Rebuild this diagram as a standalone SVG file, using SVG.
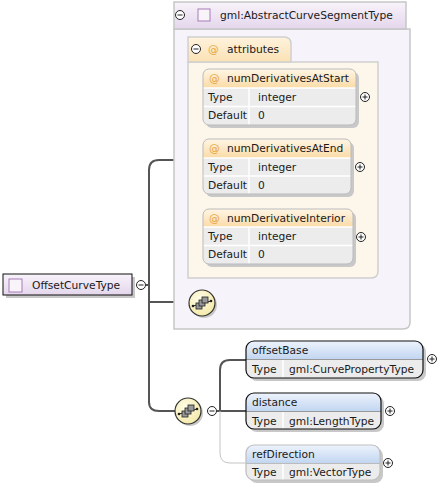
<svg xmlns="http://www.w3.org/2000/svg" width="439" height="488" viewBox="0 0 439 488">
<defs>
<linearGradient id="gPurple" x1="0" y1="0" x2="0" y2="1"><stop offset="0" stop-color="#f8f3fa"/><stop offset="1" stop-color="#e4d6ec"/></linearGradient>
<linearGradient id="gOrange" x1="0" y1="0" x2="0" y2="1"><stop offset="0" stop-color="#fff6e6"/><stop offset="1" stop-color="#fbdba6"/></linearGradient>
<linearGradient id="gTab" x1="0" y1="0" x2="0" y2="1"><stop offset="0" stop-color="#fff3dd"/><stop offset="1" stop-color="#fbe1b4"/></linearGradient>
<linearGradient id="gBlue" x1="0" y1="0" x2="0" y2="1"><stop offset="0" stop-color="#eef3fc"/><stop offset="1" stop-color="#c2d6f1"/></linearGradient>
<radialGradient id="gSeq" cx="0.4" cy="0.35" r="0.7"><stop offset="0" stop-color="#fffde8"/><stop offset="1" stop-color="#f3e9a6"/></radialGradient>
<g id="seqGlyph">
<line x1="-9" y1="2" x2="9" y2="-3" stroke="#222" stroke-width="1"/>
<circle cx="-9" cy="2" r="1.3" fill="#222"/>
<circle cx="9" cy="-3" r="1.3" fill="#222"/>
<rect x="-6" y="-1" width="6" height="6" fill="#999" stroke="#222" stroke-width="0.8"/>
<rect x="-3" y="-4" width="6" height="6" fill="#999" stroke="#222" stroke-width="0.8"/>
<rect x="0" y="-7" width="6" height="6" fill="#999" stroke="#222" stroke-width="0.8"/>
</g>
<g id="plus"><circle r="4.5" fill="#fff" stroke="#222" stroke-width="1"/><path d="M-2.5 0H2.5M0 -2.5V2.5" stroke="#222" stroke-width="1"/></g>
<g id="minus"><circle r="4.5" fill="#fff" stroke="#222" stroke-width="1"/><path d="M-2.5 0H2.5" stroke="#222" stroke-width="1"/></g>
</defs>
<style>
text{font-family:"DejaVu Sans","Liberation Sans",sans-serif;font-size:10.7px;fill:#1a1a1a}
.at{fill:#e8a53a}
.conn{fill:none;stroke:#555;stroke-width:2}
.connOpt{fill:none;stroke:#c4c4c4;stroke-width:1}
.shadow{fill:#c8c8c8}
.row{fill:#ececec}
.sep{stroke:#fff;stroke-width:1.5}
.attrBox{fill:none;stroke:#bbb;stroke-width:1}
</style>

<!-- connectors -->
<g id="connectors">
<path class="conn" d="M146 285H149"/>
<path class="conn" d="M188 160H159Q149 160 149 170V402Q149 411 159 411H175"/>
<path class="conn" d="M149 302H189"/>
<path class="conn" d="M217 411H246"/>
<path class="conn" d="M246 360H230Q220 360 220 370V411"/>
<path class="connOpt" d="M220 411V453Q220 463 230 463H246"/>
</g>

<!-- outer type container -->
<g id="abstractCurveSegmentType">
<path d="M174 29H410V322Q410 329 403 329H174Z" fill="#f7f3fa" stroke="#c6c6c6" stroke-width="1.5"/>
<rect x="174" y="2" width="232" height="27" fill="url(#gPurple)" stroke="#c6c6c6" stroke-width="1.5"/>
<use href="#minus" x="180" y="15"/>
<rect x="198" y="9" width="12" height="12" fill="#f8f4fa" stroke="#a77cb8" stroke-width="1"/>
<text x="220" y="19">gml:AbstractCurveSegmentType</text>
</g>

<!-- attributes group -->
<g id="attributes">
<path d="M188 62H378V271Q378 278 371 278H188Z" fill="#fdf6eb" stroke="#cfcfcf" stroke-width="1.5"/>
<path d="M188 62V37H284Q291 37 291 44V62Z" fill="url(#gTab)" stroke="#cfcfcf" stroke-width="1.5"/>
<use href="#minus" x="196" y="49"/>
<text class="at" x="208" y="53">@</text>
<text x="227" y="53">attributes</text>
</g>

<g id="numDerivativesAtStart">
<rect class="shadow" x="206" y="72" width="153" height="56" rx="6"/>
<rect x="203" y="69" width="153" height="56" rx="6" fill="#ececec"/>
<path d="M203 88V75Q203 69 209 69H350Q356 69 356 75V88Z" fill="url(#gOrange)"/>
<line class="sep" x1="203" y1="88" x2="356" y2="88"/>
<line class="sep" x1="203" y1="106.5" x2="356" y2="106.5"/>
<line class="sep" x1="249" y1="88" x2="249" y2="125"/>
<rect class="attrBox" x="203" y="69" width="153" height="56" rx="6"/>
<text class="at" x="209" y="82">@</text>
<text x="227" y="82">numDerivativesAtStart</text>
<text x="208" y="101">Type</text><text x="258" y="101">integer</text>
<text x="208" y="119">Default</text><text x="258" y="119">0</text>
<use href="#plus" x="365" y="97"/>
</g>

<g id="numDerivativesAtEnd">
<rect class="shadow" x="206" y="142" width="148" height="55" rx="6"/>
<rect x="203" y="139" width="148" height="55" rx="6" fill="#ececec"/>
<path d="M203 158V145Q203 139 209 139H345Q351 139 351 145V158Z" fill="url(#gOrange)"/>
<line class="sep" x1="203" y1="158" x2="351" y2="158"/>
<line class="sep" x1="203" y1="176" x2="351" y2="176"/>
<line class="sep" x1="249" y1="158" x2="249" y2="194"/>
<rect class="attrBox" x="203" y="139" width="148" height="55" rx="6"/>
<text class="at" x="209" y="152">@</text>
<text x="227" y="152">numDerivativesAtEnd</text>
<text x="208" y="171">Type</text><text x="258" y="171">integer</text>
<text x="208" y="189">Default</text><text x="258" y="189">0</text>
<use href="#plus" x="360" y="167"/>
</g>

<g id="numDerivativeInterior">
<rect class="shadow" x="206" y="212" width="150" height="55" rx="6"/>
<rect x="203" y="209" width="150" height="55" rx="6" fill="#ececec"/>
<path d="M203 227V215Q203 209 209 209H347Q353 209 353 215V227Z" fill="url(#gOrange)"/>
<line class="sep" x1="203" y1="227" x2="353" y2="227"/>
<line class="sep" x1="203" y1="245.5" x2="353" y2="245.5"/>
<line class="sep" x1="249" y1="227" x2="249" y2="264"/>
<rect class="attrBox" x="203" y="209" width="150" height="55" rx="6"/>
<text class="at" x="209" y="222">@</text>
<text x="227" y="222">numDerivativeInterior</text>
<text x="208" y="240">Type</text><text x="258" y="240">integer</text>
<text x="208" y="258">Default</text><text x="258" y="258">0</text>
<use href="#plus" x="361" y="237"/>
</g>

<!-- sequence inside type -->
<g id="sequence1">
<circle cx="204" cy="305" r="13" class="shadow"/>
<circle cx="202" cy="303" r="13" fill="url(#gSeq)" stroke="#333" stroke-width="1.2"/>
<use href="#seqGlyph" x="202" y="304"/>
</g>

<!-- root element -->
<g id="offsetCurveType">
<rect class="shadow" x="6" y="277" width="129" height="21"/>
<rect x="3" y="274" width="129" height="21" fill="url(#gPurple)" stroke="#111" stroke-width="1"/>
<rect x="9" y="279" width="13" height="13" fill="#f8f4fa" stroke="#a77cb8" stroke-width="1"/>
<text x="32" y="289">OffsetCurveType</text>
<use href="#minus" x="141" y="285"/>
</g>

<!-- sequence bottom -->
<g id="sequence2">
<circle cx="190" cy="413" r="13" class="shadow"/>
<circle cx="188" cy="411" r="13" fill="url(#gSeq)" stroke="#333" stroke-width="1.2"/>
<use href="#seqGlyph" x="188" y="412"/>
<use href="#minus" x="212" y="411"/>
</g>

<g id="offsetBase">
<rect class="shadow" x="249" y="344" width="177" height="37" rx="8"/>
<rect x="246" y="341" width="177" height="37" rx="8" fill="#ececec"/>
<path d="M246 359V349Q246 341 254 341H415Q423 341 423 349V359Z" fill="url(#gBlue)"/>
<line x1="246" y1="359.5" x2="423" y2="359.5" stroke="#999" stroke-width="1"/>
<line class="sep" x1="283" y1="360" x2="283" y2="378"/>
<rect x="246" y="341" width="177" height="37" rx="8" fill="none" stroke="#111" stroke-width="1.2"/>
<text x="252" y="354">offsetBase</text>
<text x="252" y="373">Type</text><text x="289" y="373">gml:CurvePropertyType</text>
<use href="#plus" x="432" y="359"/>
</g>

<g id="distance">
<rect class="shadow" x="249" y="396" width="135" height="36" rx="8"/>
<rect x="246" y="393" width="135" height="36" rx="8" fill="#ececec"/>
<path d="M246 411V401Q246 393 254 393H373Q381 393 381 401V411Z" fill="url(#gBlue)"/>
<line x1="246" y1="411.5" x2="381" y2="411.5" stroke="#999" stroke-width="1"/>
<line class="sep" x1="283" y1="412" x2="283" y2="429"/>
<rect x="246" y="393" width="135" height="36" rx="8" fill="none" stroke="#111" stroke-width="1.2"/>
<text x="252" y="406">distance</text>
<text x="252" y="425">Type</text><text x="289" y="425">gml:LengthType</text>
<use href="#plus" x="390" y="411"/>
</g>

<g id="refDirection">
<rect class="shadow" x="249" y="448" width="134" height="35" rx="8"/>
<rect x="246" y="445" width="134" height="35" rx="8" fill="#ececec"/>
<path d="M246 463V453Q246 445 254 445H372Q380 445 380 453V463Z" fill="url(#gBlue)"/>
<line x1="246" y1="463.5" x2="380" y2="463.5" stroke="#bbb" stroke-width="1"/>
<line class="sep" x1="283" y1="464" x2="283" y2="480"/>
<rect x="246" y="445" width="134" height="35" rx="8" fill="none" stroke="#bdbdbd" stroke-width="1.2"/>
<text x="252" y="458">refDirection</text>
<text x="252" y="476">Type</text><text x="289" y="476">gml:VectorType</text>
<use href="#plus" x="388" y="463"/>
</g>
</svg>
